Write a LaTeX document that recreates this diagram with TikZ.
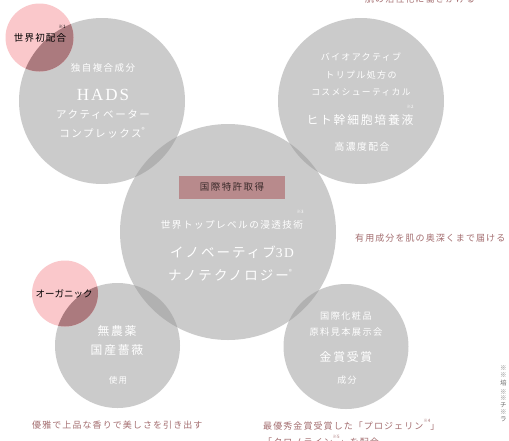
\documentclass[tikz,border=0pt]{standalone}
\usepackage{fontspec}
\setmainfont{Noto Sans CJK JP}
\newfontfamily\jp[LetterSpace=15]{Noto Sans CJK JP}
\newfontfamily\jpc[LetterSpace=12]{Noto Sans CJK JP}
\newfontfamily\jpn{Noto Sans CJK JP}
\newfontfamily\lser[LetterSpace=12]{Liberation Serif}
\definecolor{circgray}{HTML}{999999}
\definecolor{pinkc}{HTML}{FAC8CB}
\definecolor{ovc}{HTML}{AB7A7E}
\definecolor{capc}{HTML}{A46E70}
\definecolor{boxc}{HTML}{B88A8C}
\definecolor{boxt}{HTML}{3A2A2A}
\definecolor{notec}{HTML}{707070}
\newcommand\fs[1]{\fontsize{#1}{#1}\selectfont}
\newcommand\note[1]{\raisebox{0.75em}{\jpn\fs{4.5}#1}}
\newcommand\regm{\raisebox{0.45em}{\jpn\fs{6.5}®}}
\begin{document}
\begin{tikzpicture}[x=1pt,y=-1pt,
  ct/.style={inner sep=0pt, text=white, anchor=center},
  captxt/.style={inner sep=0pt, text=capc, font=\jpc\fs{9}},
  blk/.style={inner sep=0pt, text=black, font=\jpc\fs{9.5}},
  fn/.style={inner sep=0pt, text=notec, font=\jpn\fs{6.5}, anchor=west}]
\useasboundingbox (0,0) rectangle (509,440);
\clip (0,0) rectangle (509,440);
\fill[white] (0,0) rectangle (509,440);
% gray circles
\begin{scope}[fill=circgray, fill opacity=0.5]
\fill (102,101) circle (83);
\fill (361,101) circle (83);
\fill (228,232) circle (108);
\fill (117.5,345.5) circle (62.5);
\fill (346,346.5) circle (62.5);
\end{scope}
% pink circles
\fill[pinkc] (39.5,37.5) circle (34);
\fill[pinkc] (65,293.5) circle (33);
\begin{scope}\clip (39.5,37.5) circle (34); \fill[ovc] (102,101) circle (83);\end{scope}
\begin{scope}\clip (65,293.5) circle (33); \fill[ovc] (117.5,345.5) circle (62.5);\end{scope}
% pink labels
\node[blk] (p1) at (40,38) {世界初配合};
\node[inner sep=0pt, font=\jpn\fs{4.5}] (p1n) at (62,27) {※1};
\node[blk, font=\jpn\fs{9.5}] (p2) at (64,293.5) {オーガニック};
% HADS circle
\node[ct, font=\jp\fs{9.5}] (a1) at (103,68) {独自複合成分};
\node[ct, font=\lser\fs{17}] (a2) at (103,95) {HADS};
\node[ct, font=\jp\fs{10.5}] (a3) at (103,115) {アクティベーター};
\node[ct, font=\jp\fs{10.5}] (a4) at (102,133) {コンプレックス\regm};
% top right circle
\node[ct, font=\jp\fs{9}] (b1) at (361,57) {バイオアクティブ};
\node[ct, font=\jp\fs{9}] (b2) at (361,75) {トリプル処方の};
\node[ct, font=\jp\fs{8.8}] (b3) at (361,92) {コスメシューティカル};
\node[ct, font=\jpn\fs{4.5}] (b3n) at (410,107) {※2};
\node[ct, font=\jp\fs{11.8}] (b4) at (360,120) {ヒト幹細胞培養液};
\node[ct, font=\jp\fs{9.8}] (b5) at (362,147) {高濃度配合};
% center circle
\node[fill=boxc, minimum width=106, minimum height=23, inner sep=0pt,
      text=boxt, font=\jp\fs{9.5}] (c0) at (232,187) {国際特許取得};
\node[ct, font=\jp\fs{9.6}] (c1) at (232,225) {世界トップレベルの浸透技術};
\node[ct, font=\jpn\fs{4.5}] (c1n) at (300,212) {※3};
\node[ct, font=\jp\fs{13.5}] (c2) at (232,252) {イノベーティブ{\lser 3D}};
\node[ct, font=\jp\fs{13.5}] (c3) at (230,275) {ナノテクノロジー\regm};
% bottom left circle
\node[ct, font=\jp\fs{11.8}] (d1) at (117,331) {無農薬};
\node[ct, font=\jp\fs{11.8}] (d2) at (117,350) {国産薔薇};
\node[ct, font=\jp\fs{8.5}] (d3) at (118,380) {使用};
% bottom right circle
\node[ct, font=\jp\fs{9.2}] (e1) at (346,316) {国際化粧品};
\node[ct, font=\jp\fs{9.2}] (e2) at (346,332) {原料見本展示会};
\node[ct, font=\jp\fs{11.8}] (e3) at (346,357) {金賞受賞};
\node[ct, font=\jp\fs{9}] (e4) at (347,380) {成分};
% captions (partly cropped at the picture edge, as in the reference)
\node[captxt, anchor=center] (f1) at (420,-1) {肌の活性化に働きかける};
\node[captxt, anchor=west] (f2) at (355,238) {有用成分を肌の奥深くまで届ける};
\node[captxt, anchor=west] (f3) at (32,425) {優雅で上品な香りで美しさを引き出す};
\node[captxt, anchor=west] (f4) at (263,425) {最優秀金賞受賞した「プロジェリン\note{※4}」};
\node[captxt, anchor=west] (f5) at (263,441) {「クロノライン\note{※5}」を配合};
% footnote column at right edge
\node[fn] (g1) at (500,368) {※};
\node[fn] (g2) at (500,375) {※};
\node[fn] (g3) at (500,383) {培};
\node[fn] (g4) at (500,392) {※};
\node[fn] (g5) at (500,398.5) {※};
\node[fn] (g6) at (500,405) {チ};
\node[fn] (g7) at (500,412) {※};
\node[fn] (g8) at (500,419) {ラ};
\end{tikzpicture}
\end{document}
